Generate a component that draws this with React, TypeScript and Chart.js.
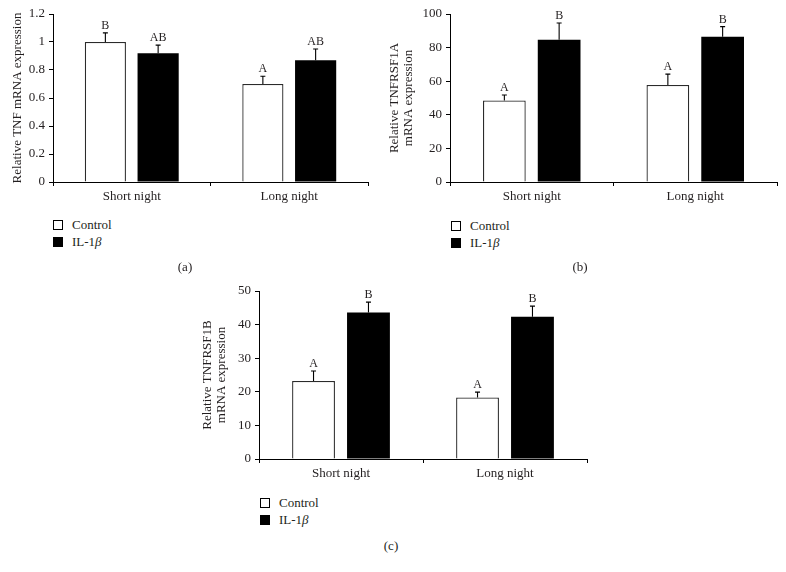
import React, { useEffect, useRef } from "react";
import { Chart, registerables } from "chart.js";
Chart.register(...registerables);

const categories = ["Short night", "Long night"];
const seriesNames = ["Control", "IL-1"];

// Panel (a) TNF
const tnfControl = [1.0, 0.7];
const tnfIL1b = [0.92, 0.87];
const tnfControlErr = [0.065, 0.055];
const tnfIL1bErr = [0.058, 0.08];
const tnfControlLetters = ["B", "A"];
const tnfIL1bLetters = ["AB", "AB"];
const tnfTicks = [0, 0.2, 0.4, 0.6, 0.8, 1, 1.2];

// Panel (b) TNFRSF1A
const r1aControl = [48.5, 57.8];
const r1aIL1b = [84.6, 86.5];
const r1aControlErr = [3.3, 6.4];
const r1aIL1bErr = [10.0, 6.0];
const r1aControlLetters = ["A", "A"];
const r1aIL1bLetters = ["B", "B"];
const r1aTicks = [0, 20, 40, 60, 80, 100];

// Panel (c) TNFRSF1B
const r1bControl = [23.2, 18.3];
const r1bIL1b = [43.6, 42.3];
const r1bControlErr = [3.0, 1.6];
const r1bIL1bErr = [3.1, 3.2];
const r1bControlLetters = ["A", "A"];
const r1bIL1bLetters = ["B", "B"];
const r1bTicks = [0, 10, 20, 30, 40, 50];

const FONT = '"Liberation Serif", "Times New Roman", serif';
const TEXT = "#231f20";

const errLetterPlugin = {
  id: "errLetters",
  afterDatasetsDraw(chart: any, _args: any, opts: any) {
    const { ctx } = chart;
    const y = chart.scales.y;
    chart.data.datasets.forEach((ds: any, di: number) => {
      const meta = chart.getDatasetMeta(di);
      meta.data.forEach((bar: any, i: number) => {
        const v = ds.data[i];
        const e = opts.errors[di][i];
        const top = y.getPixelForValue(v + e);
        const x = bar.x;
        ctx.save();
        ctx.strokeStyle = "#000";
        ctx.lineWidth = 1.1;
        ctx.beginPath();
        ctx.moveTo(x, bar.y);
        ctx.lineTo(x, top);
        ctx.moveTo(x - 2.5, top);
        ctx.lineTo(x + 2.5, top);
        ctx.stroke();
        ctx.fillStyle = TEXT;
        ctx.font = "12px " + FONT;
        ctx.textAlign = "center";
        ctx.textBaseline = "alphabetic";
        ctx.fillText(opts.letters[di][i], x, top - 4);
        ctx.restore();
      });
    });
  },
};

type PanelProps = {
  left: number;
  top: number;
  width: number;
  height: number;
  padTop: number;
  padRight: number;
  yWidth: number;
  titlePad: number;
  title: string | string[];
  control: number[];
  il: number[];
  controlErr: number[];
  ilErr: number[];
  controlLetters: string[];
  ilLetters: string[];
  ticks: number[];
};

function Panel(p: PanelProps) {
  const ref = useRef<HTMLCanvasElement | null>(null);
  useEffect(() => {
    if (!ref.current) return;
    const min = p.ticks[0];
    const max = p.ticks[p.ticks.length - 1];
    const chart = new Chart(ref.current, {
      type: "bar",
      data: {
        labels: categories,
        datasets: [
          {
            label: seriesNames[0],
            data: p.control,
            backgroundColor: "#ffffff",
            borderColor: "#2b2b2b",
            borderWidth: 1.3,
            barPercentage: 0.78,
            categoryPercentage: 0.67,
          },
          {
            label: seriesNames[1],
            data: p.il,
            backgroundColor: "#000000",
            borderColor: "#000000",
            borderWidth: 0,
            barPercentage: 0.78,
            categoryPercentage: 0.67,
          },
        ],
      },
      options: {
        animation: false,
        responsive: false,
        maintainAspectRatio: false,
        layout: { padding: { top: p.padTop, right: p.padRight, left: 0, bottom: 0 } },
        plugins: {
          legend: { display: false },
          tooltip: { enabled: false },
          errLetters: {
            errors: [p.controlErr, p.ilErr],
            letters: [p.controlLetters, p.ilLetters],
          },
        } as any,
        scales: {
          x: {
            type: "category",
            offset: true,
            grid: {
              offset: true,
              drawOnChartArea: false,
              drawTicks: true,
              tickLength: 4,
              color: "#000",
            },
            border: { color: "#000", width: 1 },
            ticks: { color: TEXT, font: { family: FONT, size: 13 }, padding: 3, maxRotation: 0 },
            afterFit: (s: any) => {
              s.height = 28;
            },
          },
          y: {
            min,
            max,
            afterBuildTicks: (s: any) => {
              s.ticks = p.ticks.map((v) => ({ value: v }));
            },
            grid: { drawOnChartArea: false, drawTicks: true, tickLength: 4, color: "#000" },
            border: { color: "#000", width: 1 },
            ticks: {
              color: TEXT,
              font: { family: FONT, size: 13 },
              padding: 4,
              callback: (v: any) => String(v),
            },
            title: {
              display: true,
              text: p.title,
              color: TEXT,
              font: { family: FONT, size: 13, lineHeight: 1.1 },
              padding: { top: p.titlePad, bottom: 0 },
            },
            afterFit: (s: any) => {
              s.width = p.yWidth;
            },
          },
        },
      },
      plugins: [errLetterPlugin as any],
    });
    return () => chart.destroy();
  }, []);
  return (
    <canvas
      ref={ref}
      width={p.width}
      height={p.height}
      style={{ position: "absolute", left: p.left, top: p.top, width: p.width, height: p.height }}
    />
  );
}

function Legend({ left, top }: { left: number; top: number }) {
  const item = (fill: string, label: React.ReactNode, t: number) => (
    <div
      style={{
        position: "absolute",
        left,
        top: t - 8,
        height: 16,
        display: "flex",
        alignItems: "center",
        whiteSpace: "nowrap",
      }}
    >
      <span
        style={{
          display: "inline-block",
          width: 8,
          height: 8,
          border: "1px solid #000",
          background: fill,
        }}
      />
      <span style={{ marginLeft: 9, fontSize: 13, color: TEXT, lineHeight: "16px" }}>{label}</span>
    </div>
  );
  return (
    <>
      {item("#fff", seriesNames[0], top)}
      {item("#000", <>{seriesNames[1]}<i>β</i></>, top + 17)}
    </>
  );
}

function Caption({ x, y, text }: { x: number; y: number; text: string }) {
  return (
    <div
      style={{
        position: "absolute",
        left: x - 20,
        top: y - 8,
        width: 40,
        textAlign: "center",
        fontSize: 13,
        lineHeight: "16px",
        color: TEXT,
      }}
    >
      {text}
    </div>
  );
}

export default function App() {
  return (
    <div
      style={{
        position: "absolute",
        left: 0,
        top: 0,
        width: 786,
        height: 572,
        background: "#fff",
        fontFamily: FONT,
        overflow: "hidden",
      }}
    >
      <Panel
        left={0}
        top={0}
        width={380}
        height={210}
        padTop={14}
        padRight={12}
        yWidth={53}
        titlePad={10}
        title="Relative TNF mRNA expression"
        control={tnfControl}
        il={tnfIL1b}
        controlErr={tnfControlErr}
        ilErr={tnfIL1bErr}
        controlLetters={tnfControlLetters}
        ilLetters={tnfIL1bLetters}
        ticks={tnfTicks}
      />
      <Panel
        left={380}
        top={0}
        width={406}
        height={210}
        padTop={14}
        padRight={9}
        yWidth={70}
        titlePad={7}
        title={["Relative TNFRSF1A", "mRNA expression"]}
        control={r1aControl}
        il={r1aIL1b}
        controlErr={r1aControlErr}
        ilErr={r1aIL1bErr}
        controlLetters={r1aControlLetters}
        ilLetters={r1aIL1bLetters}
        ticks={r1aTicks}
      />
      <Panel
        left={160}
        top={270}
        width={440}
        height={217}
        padTop={21}
        padRight={13}
        yWidth={99}
        titlePad={40}
        title={["Relative TNFRSF1B", "mRNA expression"]}
        control={r1bControl}
        il={r1bIL1b}
        controlErr={r1bControlErr}
        ilErr={r1bIL1bErr}
        controlLetters={r1bControlLetters}
        ilLetters={r1bIL1bLetters}
        ticks={r1bTicks}
      />
      <Legend left={53} top={225} />
      <Legend left={451} top={226} />
      <Legend left={260} top={503} />
      <Caption x={185} y={267} text="(a)" />
      <Caption x={580} y={267} text="(b)" />
      <Caption x={391} y={546} text="(c)" />
    </div>
  );
}
